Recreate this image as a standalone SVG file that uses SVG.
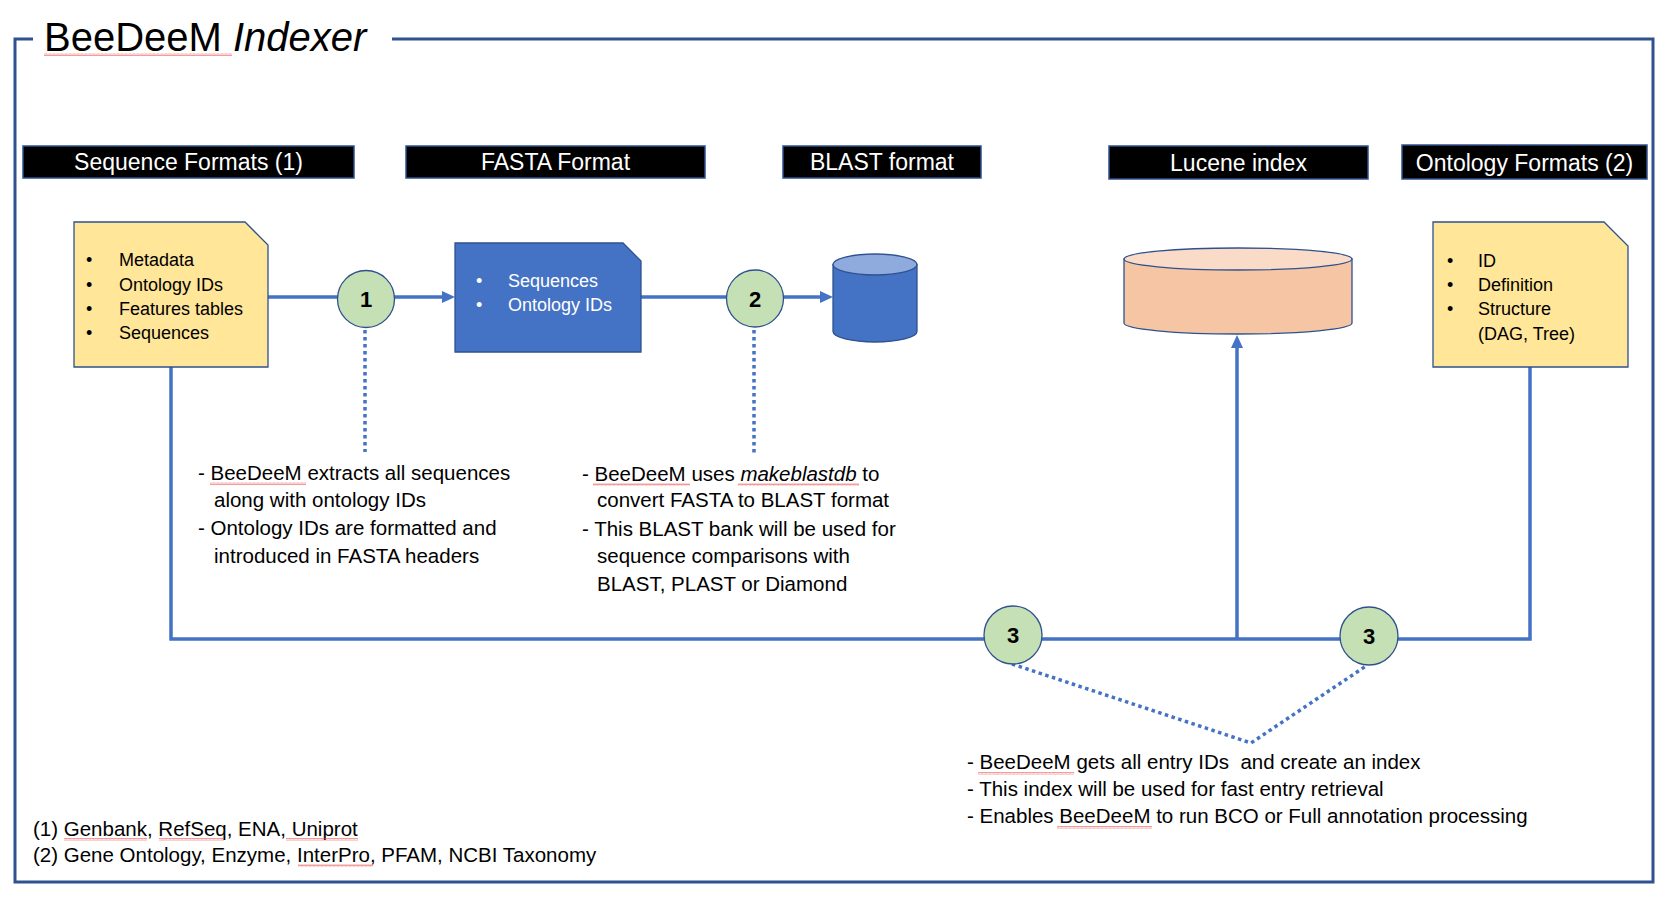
<svg xmlns="http://www.w3.org/2000/svg" width="1671" height="904" viewBox="0 0 1671 904">
<defs>
<style>
text{font-family:"Liberation Sans",Arial,sans-serif;fill:#000}
.hdr rect{fill:#000;stroke:#2F528F;stroke-width:1.5}
.hdr text{fill:#fff;font-size:23px;text-anchor:middle}
.doc{fill:#FFE699;stroke:#2F528F;stroke-width:1.3}
.li{font-size:18px}
.wli{font-size:18px;fill:#fff}
.step circle{fill:#C5E0B4;stroke:#2F528F;stroke-width:1.3}
.step text{font-size:22px;font-weight:bold;text-anchor:middle}
.body{font-size:20.5px}
.conn{fill:none;stroke:#4472C4;stroke-width:3.5}
.dot{fill:none;stroke:#4472C4;stroke-width:3.5;stroke-dasharray:3.5 3.5}
.sq{fill:url(#squig)}
</style>
<pattern id="squig" width="4" height="3" patternUnits="userSpaceOnUse">
<path d="M0,2.5 L1,0.5 L2,2.5 L3,0.5 L4,2.5" fill="none" stroke="#E84A4A" stroke-width="0.55"/>
</pattern>
</defs>
<rect width="1671" height="904" fill="#fff"/>

<g id="frame">
<path d="M33,39 H15 V882 H1653 V39 H392" fill="none" stroke="#2F528F" stroke-width="3"/>
<text x="44" y="51" font-size="40">BeeDeeM <tspan font-style="italic">Indexer</tspan></text>
<rect class="sq" x="44" y="53" width="188" height="3"/>
</g>

<g id="headers">
<g id="hdr-seq" class="hdr"><rect x="23" y="146" width="331" height="32"/><text x="188.5" y="170">Sequence Formats (1)</text></g>
<g id="hdr-fasta" class="hdr"><rect x="406" y="146" width="299" height="32"/><text x="555.5" y="170">FASTA Format</text></g>
<g id="hdr-blast" class="hdr"><rect x="783" y="146" width="198" height="32"/><text x="882" y="170">BLAST format</text></g>
<g id="hdr-lucene" class="hdr"><rect x="1109" y="146" width="259" height="33"/><text x="1238.5" y="171">Lucene index</text></g>
<g id="hdr-onto" class="hdr"><rect x="1402" y="145" width="245" height="34"/><text x="1524.5" y="171">Ontology Formats (2)</text></g>
</g>

<g id="connectors">
<path class="conn" d="M171,367 V639 H1530 V367"/>
<path class="conn" d="M1237,639 V347"/>
<path d="M1231,348 L1237,335 L1243,348 Z" fill="#4472C4"/>
<path class="conn" d="M257,297 H443"/>
<path d="M442,291 L455,297 L442,303 Z" fill="#4472C4"/>
<path class="conn" d="M641,297 H821"/>
<path d="M820,291 L833,297 L820,303 Z" fill="#4472C4"/>
<path class="dot" d="M365,330 V452"/>
<path class="dot" d="M754,330 V454"/>
<path class="dot" d="M1012,664 L1251,743 L1366,666"/>
</g>

<g id="seq-doc">
<path class="doc" d="M74,222 H245 L268,245 V367 H74 Z"/>
<text class="li" x="86" y="266">•</text><text class="li" x="119" y="266">Metadata</text>
<text class="li" x="86" y="291">•</text><text class="li" x="119" y="291">Ontology IDs</text>
<text class="li" x="86" y="315">•</text><text class="li" x="119" y="315">Features tables</text>
<text class="li" x="86" y="339">•</text><text class="li" x="119" y="339">Sequences</text>
</g>

<g id="fasta-doc">
<path d="M455,243 H623 L641,261 V352 H455 Z" fill="#4472C4" stroke="#2F528F" stroke-width="1.3"/>
<text class="wli" x="476" y="287">•</text><text class="wli" x="508" y="287">Sequences</text>
<text class="wli" x="476" y="311">•</text><text class="wli" x="508" y="311">Ontology IDs</text>
</g>

<g id="blast-db">
<path d="M833,264.5 V331.5 A42,10.5 0 0 0 917,331.5 V264.5 Z" fill="#4472C4" stroke="#2F528F" stroke-width="1.3"/>
<ellipse cx="875" cy="264.5" rx="42" ry="10.5" fill="#8FAADC" stroke="#2F528F" stroke-width="1.3"/>
</g>

<g id="lucene-db">
<path d="M1124,259 V323 A114,11 0 0 0 1352,323 V259 Z" fill="#F6C6A4" stroke="#2F528F" stroke-width="1.3"/>
<ellipse cx="1238" cy="259" rx="114" ry="11" fill="#FADBC8" stroke="#2F528F" stroke-width="1.3"/>
</g>

<g id="onto-doc">
<path class="doc" d="M1433,222 H1604 L1628,246 V367 H1433 Z"/>
<text class="li" x="1447" y="267">•</text><text class="li" x="1478" y="267">ID</text>
<text class="li" x="1447" y="291">•</text><text class="li" x="1478" y="291">Definition</text>
<text class="li" x="1447" y="315">•</text><text class="li" x="1478" y="315">Structure</text>
<text class="li" x="1478" y="340">(DAG, Tree)</text>
</g>

<g id="step1" class="step"><circle cx="366" cy="299" r="28.5"/><text x="366" y="307">1</text></g>
<g id="step2" class="step"><circle cx="755" cy="298.5" r="28.5"/><text x="755" y="306.5">2</text></g>
<g id="step3a" class="step"><circle cx="1013" cy="635" r="29"/><text x="1013" y="643">3</text></g>
<g id="step3b" class="step"><circle cx="1369" cy="636" r="29"/><text x="1369" y="644">3</text></g>

<g id="note1">
<text class="body" x="198" y="480">- BeeDeeM extracts all sequences</text>
<text class="body" x="214" y="507">along with ontology IDs</text>
<text class="body" x="198" y="535">- Ontology IDs are formatted and</text>
<text class="body" x="214" y="563">introduced in FASTA headers</text>
<rect class="sq" x="210" y="482" width="96" height="3"/>
</g>

<g id="note2">
<text class="body" x="582" y="481">- BeeDeeM uses <tspan font-style="italic">makeblastdb</tspan> to</text>
<text class="body" x="597" y="507">convert FASTA to BLAST format</text>
<text class="body" x="582" y="536">- This BLAST bank will be used for</text>
<text class="body" x="597" y="563">sequence comparisons with</text>
<text class="body" x="597" y="591">BLAST, PLAST or Diamond</text>
<rect class="sq" x="593" y="483" width="97" height="3"/>
<rect class="sq" x="738" y="483" width="121" height="3"/>
</g>

<g id="note3">
<text class="body" x="967" y="769">- BeeDeeM gets all entry IDs&#160; and create an index</text>
<text class="body" x="967" y="796">- This index will be used for fast entry retrieval</text>
<text class="body" x="967" y="823">- Enables BeeDeeM to run BCO or Full annotation processing</text>
<rect class="sq" x="978" y="772" width="96" height="3"/>
<rect class="sq" x="1057" y="826" width="95" height="3"/>
</g>

<g id="footnotes">
<text class="body" x="33" y="836">(1) Genbank, RefSeq, ENA, Uniprot</text>
<text class="body" x="33" y="862">(2) Gene Ontology, Enzyme, InterPro, PFAM, NCBI Taxonomy</text>
<rect class="sq" x="64" y="838" width="83" height="3"/>
<rect class="sq" x="159" y="838" width="65" height="3"/>
<rect class="sq" x="286" y="838" width="72" height="3"/>
<rect class="sq" x="298" y="864" width="75" height="3"/>
</g>
</svg>
